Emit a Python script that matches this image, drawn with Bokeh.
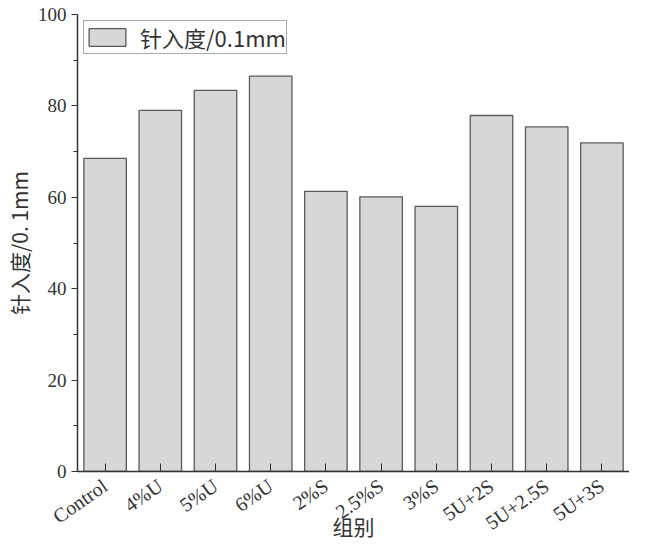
from bokeh.plotting import figure
from bokeh.models import ColumnDataSource, SingleIntervalTicker, Range1d, Legend, LegendItem
from bokeh.embed import file_html
from bokeh.resources import INLINE

categories = ["Control", "4%U", "5%U", "6%U", "2%S", "2.5%S", "3%S", "5U+2S", "5U+2.5S", "5U+3S"]
tick_labels = ["Control", "4%U", "5%U", "6%U", "2%S", "2. 5%S", "3%S", "5U+2S", "5U+2. 5S", "5U+3S"]
penetration = [68.5, 79.0, 83.4, 86.5, 61.3, 60.1, 58.0, 77.9, 75.4, 71.9]

src = ColumnDataSource(data=dict(cat=categories, val=penetration))

p = figure(x_range=categories, width=629, height=543, output_backend="svg",
           toolbar_location=None, min_border_left=69, min_border_right=0,
           min_border_top=14, min_border_bottom=72)
p.y_range = Range1d(0, 100)
p.x_range.range_padding = 0

r = p.vbar(x="cat", top="val", width=0.77, source=src,
           fill_color="#d7d7d7", line_color="#5a5a5a", line_width=1.3)

p.grid.visible = False
p.outline_line_color = None
p.background_fill_color = "white"

serif = "Liberation Serif"
cjk = "Noto Sans CJK SC"

p.yaxis.ticker = SingleIntervalTicker(interval=20, num_minor_ticks=2)
p.yaxis.major_tick_out = 6
p.yaxis.major_tick_in = 0
p.yaxis.minor_tick_out = 4
p.yaxis.minor_tick_in = 0
p.yaxis.major_label_text_font = serif
p.yaxis.major_label_text_font_size = "19px"
p.yaxis.major_label_text_color = "#333333"
p.yaxis.axis_label = "针入度/0. 1mm"
p.yaxis.axis_label_text_font = cjk
p.yaxis.axis_label_text_font_size = "21px"
p.yaxis.axis_label_text_font_style = "normal"
p.yaxis.axis_label_text_color = "#333333"
p.yaxis.axis_label_standoff = 1
p.yaxis.axis_line_color = "#333333"
p.yaxis.major_tick_line_color = "#333333"
p.yaxis.minor_tick_line_color = "#333333"
p.yaxis.axis_line_width = 1.5

p.xaxis.major_label_overrides = {c: t for c, t in zip(categories, tick_labels)}
p.xaxis.major_label_orientation = 0.61
p.xaxis.major_label_text_font = serif
p.xaxis.major_label_text_font_size = "20px"
p.xaxis.major_label_text_color = "#333333"
p.xaxis.major_label_standoff = 12
p.xaxis.major_tick_in = 8
p.xaxis.major_tick_out = 0
p.xaxis.axis_label = "组别"
p.xaxis.axis_label_text_font = cjk
p.xaxis.axis_label_text_font_size = "21px"
p.xaxis.axis_label_text_font_style = "normal"
p.xaxis.axis_label_text_color = "#333333"
p.xaxis.axis_label_standoff = -35
p.xaxis.axis_line_color = "#333333"
p.xaxis.major_tick_line_color = "#333333"
p.xaxis.axis_line_width = 1.5

legend = Legend(items=[LegendItem(label="针入度/0.1mm", renderers=[r])],
                location="top_left", margin=6)
legend.label_text_font = cjk
legend.label_text_font_size = "22px"
legend.label_text_color = "#333333"
legend.glyph_width = 46
legend.glyph_height = 22
legend.padding = 0
legend.spacing = 0
legend.label_standoff = 10
legend.border_line_color = "#555555"
legend.border_line_width = 1
legend.background_fill_alpha = 1
p.add_layout(legend, "center")

open("out.html", "w").write(file_html(p, INLINE))
